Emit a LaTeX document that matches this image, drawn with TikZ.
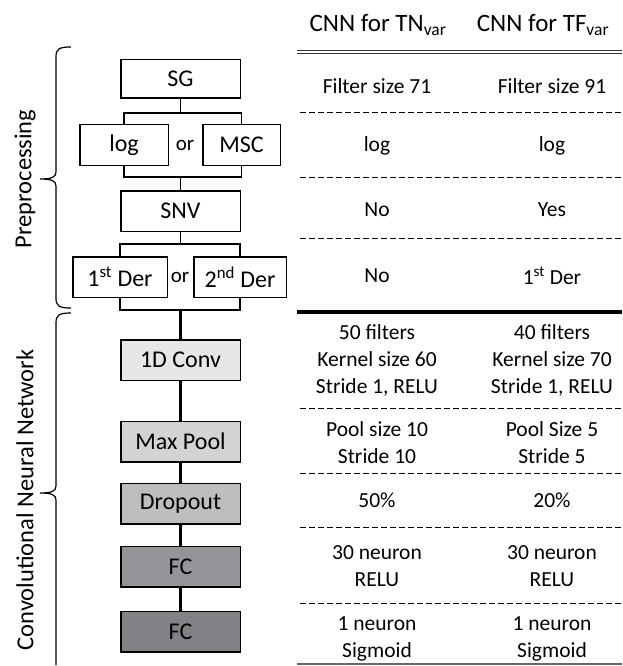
\documentclass[tikz,border=0pt]{standalone}
\usepackage{fontspec}
\setmainfont{Carlito}
\definecolor{convgray}{HTML}{E6E7E8}
\definecolor{poolgray}{HTML}{D1D3D4}
\definecolor{dropgray}{HTML}{BCBEC0}
\definecolor{fcgray}{HTML}{939598}
\definecolor{outgray}{HTML}{808285}

\begin{document}
\begin{tikzpicture}[x=1pt,y=-1pt,
  stage/.style={draw,line width=1.5pt,minimum width=119.5pt,minimum height=40.5pt,
    inner sep=0pt,font=\fontsize{24}{28}\selectfont},
  link/.style={line width=1.5pt},
  cnnlink/.style={line width=2.5pt},
  cell/.style={align=center,font=\fontsize{21.5}{27}\selectfont},
  head/.style={anchor=base,font=\fontsize{25}{30}\selectfont},
  rowsep/.style={line width=1pt,dash pattern=on 6pt off 3pt},
  side/.style={rotate=90,font=\fontsize{24.5}{28}\selectfont}]
\useasboundingbox (0,0) rectangle (622,666);

% preprocessing chain
\node[stage,minimum height=38.5pt] (sg) at (180.5,79) {SG};
\node[stage,minimum width=88.5pt] (log) at (124,145) {log};
\node[stage,minimum width=77.5pt] (msc) at (241.5,145) {MSC};
\node[font=\fontsize{21}{24}\selectfont] (or1) at (185,145) {or};
\node[stage] (snv) at (180.5,211) {SNV};
\node[stage,minimum width=94.5pt] (der1) at (120,277) {1\textsuperscript{st} Der};
\node[stage,minimum width=92.5pt] (der2) at (240,277) {2\textsuperscript{nd} Der};
\node[font=\fontsize{21}{24}\selectfont] (or2) at (180,277) {or};

\coordinate (j1) at (180.5,113);
\coordinate (j2) at (180.5,177);
\coordinate (j3) at (180.5,244);
\coordinate (j4) at (180.5,310);
\draw[link] (sg) -- (j1);
\draw[link] (log.north) |- (j1) -| (msc.north);
\draw[link] (log.south) |- (j2) -| (msc.south);
\draw[link] (j2) -- (snv);
\draw[link] (snv) -- (j3);
\draw[link] (der1.north) |- (j3) -| (der2.north);
\draw[link] (der1.south) |- (j4) -| (der2.south);

% network chain
\node[stage,fill=convgray] (conv) at (180.5,360) {1D Conv};
\node[stage,fill=poolgray] (pool) at (180.5,441.5) {Max Pool};
\node[stage,fill=dropgray] (drop) at (180.5,503.5) {Dropout};
\node[stage,fill=fcgray] (fc1) at (180.5,566.5) {FC};
\node[stage,fill=outgray] (fc2) at (180.5,631.5) {FC};
\draw[cnnlink] (j4) -- (conv);
\draw[cnnlink] (conv) -- (pool);
\draw[cnnlink] (pool) -- (drop);
\draw[cnnlink] (drop) -- (fc1);
\draw[cnnlink] (fc1) -- (fc2);

% braces
\draw[line width=1.2pt] (71,47) .. controls (59,47) and (56,49) .. (56,57) -- (56,172)
  .. controls (56,177) and (52,179) .. (40,179) .. controls (52,179) and (56,181) .. (56,186)
  -- (56,298) .. controls (56,306) and (59,308) .. (71,308);
\draw[line width=1.2pt] (71,313) .. controls (59,313) and (56,315) .. (56,323) -- (56,486)
  .. controls (56,491) and (52,493) .. (40,493) .. controls (52,493) and (56,495) .. (56,500)
  -- (56,665);
\node[side] (prelbl) at (25,179) {Preprocessing};
\node[side] (cnnlbl) at (25,500) {Convolutional Neural Network};

% table
\node[head] (tnhead) at (378,32) {CNN for TN\textsubscript{var}};
\node[head] (tfhead) at (543,32) {CNN for TF\textsubscript{var}};
\draw[line width=.9pt,black!80] (297,50) -- (622,50);
\draw[line width=.9pt,black!80] (297,53.5) -- (622,53.5);
\foreach \y in {113,177,238,408,473,527,603}
  \draw[rowsep] (300,\y) -- (622,\y);
\draw[line width=3.5pt] (297,312) -- (622,312);
\draw[line width=1.2pt,black!60] (297,664) -- (622,664);

\node[cell] (tn1) at (377,86) {Filter size 71};
\node[cell] (tf1) at (552,86) {Filter size 91};
\node[cell] (tn2) at (377,146) {log};
\node[cell] (tf2) at (552,146) {log};
\node[cell] (tn3) at (377,210) {No};
\node[cell] (tf3) at (552,210) {Yes};
\node[cell] (tn4) at (377,276) {No};
\node[cell] (tf4) at (552,276) {1\textsuperscript{st} Der};
\node[cell] (tn5) at (377,360) {50 filters\\Kernel size 60\\Stride 1, RELU};
\node[cell] (tf5) at (552,360) {40 filters\\Kernel size 70\\Stride 1, RELU};
\node[cell] (tn6) at (377,442.5) {Pool size 10\\Stride 10};
\node[cell] (tf6) at (552,442.5) {Pool Size 5\\Stride 5};
\node[cell] (tn7) at (377,500) {50\%};
\node[cell] (tf7) at (552,500) {20\%};
\node[cell] (tn8) at (377,566.5) {30 neuron\\RELU};
\node[cell] (tf8) at (552,566.5) {30 neuron\\RELU};
\node[cell] (tn9) at (377,638.5) {1 neuron\\Sigmoid};
\node[cell] (tf9) at (552,638.5) {1 neuron\\Sigmoid};
\end{tikzpicture}
\end{document}
